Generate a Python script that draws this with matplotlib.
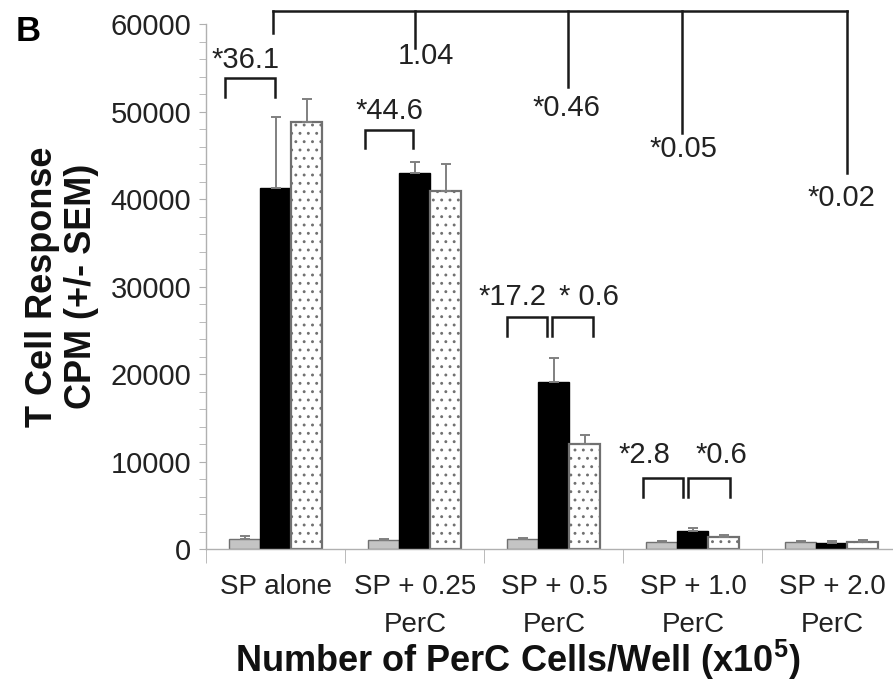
import matplotlib
matplotlib.use("Agg")
import matplotlib.pyplot as plt
import numpy as np
from matplotlib.ticker import MultipleLocator, FixedLocator

plt.rcParams['font.family'] = ['Liberation Sans', 'DejaVu Sans']
plt.rcParams['hatch.linewidth'] = 0.9
plt.rcParams['mathtext.fontset'] = 'custom'
plt.rcParams['mathtext.rm'] = 'Liberation Sans:bold'
plt.rcParams['mathtext.bf'] = 'Liberation Sans:bold'
plt.rcParams['mathtext.it'] = 'Liberation Sans:bold'

# ---- data ----
categories = ["SP alone", "SP + 0.25\nPerC", "SP + 0.5\nPerC", "SP + 1.0\nPerC", "SP + 2.0\nPerC"]
gray_vals = [1150, 1000, 1100, 800, 780]
gray_err = [300, 150, 200, 150, 100]
black_vals = [41260, 42930, 19050, 2050, 650]
black_err = [8110, 1260, 2740, 350, 280]
dotted_vals = [48800, 40910, 12000, 1350, 780]
dotted_err = [2630, 3060, 1030, 200, 250]

# fold-change annotations
small_labels = ["*36.1", "*44.6", "*17.2", "* 0.6", "*2.8", "*0.6"]
top_labels = ["1.04", "*0.46", "*0.05", "*0.02"]

# ---- layout of annotations (data coords) ----
small_text_pos = [(-0.216, 55890), (0.817, 50060), (1.701, 28800), (2.248, 28800),
                  (2.647, 10740), (3.205, 10740)]
small_brackets = [(-0.367, -0.007, 53830, 51660), (0.640, 0.986, 47890, 45830),
                  (1.662, 1.950, 26510, 24340), (1.986, 2.281, 26510, 24340),
                  (2.640, 2.928, 8110, 5940), (2.964, 3.266, 8110, 5940)]
top_y = 61490
top_legs = [(-0.022, 58970), (1.0, 57260), (2.101, 52800), (2.921, 47540), (4.108, 42970)]
top_text_pos = [(1.079, 56340), (2.086, 50400), (2.928, 45660), (4.065, 40060)]

fig = plt.figure(figsize=(8.93, 6.90), dpi=100)
ax = fig.add_axes([0.2312, 0.2043, 0.7783, 0.7609])

x = np.arange(len(categories))
w = 0.223
ekw = dict(ecolor='#808080', elinewidth=1.4, capsize=3.5, capthick=1.4)

def up(errs):
    return [np.zeros(len(errs)), errs]

ax.bar(x - w, gray_vals, w, color='#c4c4c4', edgecolor='#707070', linewidth=1.0,
       yerr=up(gray_err), error_kw=ekw, zorder=2)
ax.bar(x, black_vals, w, color='black', edgecolor='black', linewidth=1.0,
       yerr=up(black_err), error_kw=ekw, zorder=2)
ax.bar(x + w, dotted_vals, w, color='white', edgecolor='#707070', linewidth=1.6,
       hatch='..', yerr=up(dotted_err), error_kw=ekw, zorder=2)

ax.set_xlim(-0.5, 4.5)
ax.set_ylim(0, 60000)

for s in ['top', 'right']:
    ax.spines[s].set_visible(False)
for s in ['left', 'bottom']:
    ax.spines[s].set_color('#b0b0b0')
    ax.spines[s].set_linewidth(1.0)

ax.yaxis.set_major_locator(MultipleLocator(10000))
ax.yaxis.set_minor_locator(MultipleLocator(2000))
ax.tick_params(axis='y', which='both', direction='out', length=5, color='#b0b0b0',
               labelsize=21, labelcolor='#222222', pad=6)

ax.set_xticks(x)
ax.set_xticklabels(categories, fontsize=20, color='#222222', linespacing=1.6)
ax.xaxis.set_minor_locator(FixedLocator(np.arange(-0.5, 4.6, 1.0)))
ax.tick_params(axis='x', which='major', length=0, pad=18)
ax.tick_params(axis='x', which='minor', direction='out', length=10, color='#b0b0b0')

fig.text(518 / 893, 1 - 660 / 690, "Number of PerC Cells/Well (x10$^{5}$)", fontsize=26,
         fontweight='bold', ha='center', va='center', color='#111111')
ax.set_ylabel("T Cell Response\nCPM (+/- SEM)", fontsize=26, fontweight='bold',
              labelpad=8, color='#111111', linespacing=1.15)

lc = '#1a1a1a'
for (x1, x2, yt, yb) in small_brackets:
    ax.plot([x1, x1, x2, x2], [yb, yt, yt, yb], color=lc, lw=1.8, clip_on=False,
            solid_joinstyle='miter', zorder=3)
for lab, (tx, ty) in zip(small_labels, small_text_pos):
    ax.text(tx, ty, lab, ha='center', va='center', fontsize=21, color='#222222', clip_on=False)

ax.plot([top_legs[0][0], top_legs[-1][0]], [top_y, top_y], color=lc, lw=1.8, clip_on=False)
for (lx, ly) in top_legs:
    ax.plot([lx, lx], [top_y, ly], color=lc, lw=1.8, clip_on=False)
for lab, (tx, ty) in zip(top_labels, top_text_pos):
    ax.text(tx, ty, lab, ha='center', va='center', fontsize=21, color='#222222', clip_on=False)

fig.text(0.017, 0.955, "B", fontsize=25, fontweight='bold', ha='left', va='center')

fig.savefig("out.png", dpi=100)
